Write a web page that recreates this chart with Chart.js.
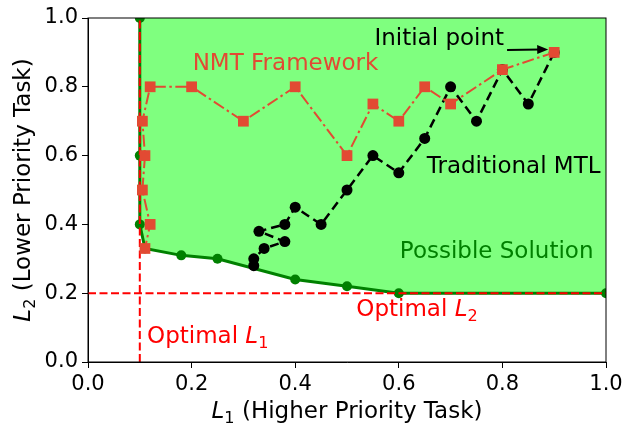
<!DOCTYPE html>
<html>
<head>
    <title>NMT vs MTL</title>
    <script src="https://cdn.jsdelivr.net/npm/chart.js"></script>
    <style>
        html, body { margin: 0; padding: 0; background: #fff; overflow: hidden; }
        canvas { display: block; }
    </style>
</head>
<body>
    <canvas id="paretoChart" width="628" height="424"></canvas>
    <script>
        // axis ticks
        const TICKS = [0.0, 0.2, 0.4, 0.6, 0.8, 1.0];

        // optimal values of each loss
        const OPT_L1 = 0.1;
        const OPT_L2 = 0.2;

        // pareto frontier (possible solution boundary)
        const FRONT_X = [0.1, 0.1, 0.1, 0.11, 0.18, 0.25, 0.4, 0.5, 0.6, 1.0];
        const FRONT_Y = [1.0, 0.6, 0.4, 0.33, 0.31, 0.30, 0.24, 0.22, 0.2, 0.2];

        // NMT framework trajectory, starting from the initial point
        const NMT_X = [0.9, 0.8, 0.7, 0.65, 0.6, 0.55, 0.5, 0.4, 0.3, 0.2, 0.12, 0.105, 0.11, 0.105, 0.12, 0.11];
        const NMT_Y = [0.9, 0.85, 0.75, 0.8, 0.7, 0.75, 0.6, 0.8, 0.7, 0.8, 0.8, 0.7, 0.6, 0.5, 0.4, 0.33];

        // traditional MTL trajectory
        const MTL_X = [0.9, 0.85, 0.8, 0.75, 0.7, 0.65, 0.6, 0.55, 0.5, 0.45, 0.4, 0.38, 0.33, 0.38, 0.34, 0.32, 0.32];
        const MTL_Y = [0.9, 0.75, 0.85, 0.7, 0.8, 0.65, 0.55, 0.6, 0.5, 0.4, 0.45, 0.4, 0.38, 0.35, 0.33, 0.3, 0.28];

        const FONT = '"DejaVu Sans", sans-serif';
        const RED = '#E24A33';
        const TXT = 23;

        const toPts = (xs, ys) => xs.map((x, i) => ({ x: x, y: ys[i] }));

        // draws text with italic L and subscript digits, e.g. [['L','i'],['1','s'],[' (text)','']]
        function drawRich(ctx, parts, x, y, size, color, align) {
            const fontOf = p => (p[1] === 'i' ? 'italic ' : '') + (p[1] === 's' ? size * 0.7 : size) + 'px ' + FONT;
            let total = 0;
            parts.forEach(p => { ctx.font = fontOf(p); total += ctx.measureText(p[0]).width; });
            let cx = align === 'center' ? x - total / 2 : x;
            ctx.fillStyle = color;
            ctx.textAlign = 'left';
            ctx.textBaseline = 'alphabetic';
            parts.forEach(p => {
                ctx.font = fontOf(p);
                ctx.fillText(p[0], cx, p[1] === 's' ? y + size * 0.22 : y);
                cx += ctx.measureText(p[0]).width;
            });
            return total;
        }

        const annotations = {
            id: 'annotations',
            afterDatasetsDraw(chart) {
                const ctx = chart.ctx;
                const xs = chart.scales.x, ys = chart.scales.y;
                const area = chart.chartArea;
                const px = v => xs.getPixelForValue(v), py = v => ys.getPixelForValue(v);
                ctx.save();

                // spines
                ctx.strokeStyle = '#000';
                ctx.lineWidth = 1;
                ctx.strokeRect(area.left, area.top, area.right - area.left, area.bottom - area.top);

                drawRich(ctx, [['NMT Framework', '']], px(0.202), py(0.849), TXT, RED);
                drawRich(ctx, [['Traditional MTL', '']], px(0.654), py(0.549), TXT, '#000');
                drawRich(ctx, [['Possible Solution', '']], px(0.602), py(0.302), TXT, '#008000');
                drawRich(ctx, [['Optimal ', ''], ['L', 'i'], ['2', 's']], px(0.518), py(0.134), TXT, '#ff0000');
                drawRich(ctx, [['Optimal ', ''], ['L', 'i'], ['1', 's']], px(0.114), py(0.055), TXT, '#ff0000');
                drawRich(ctx, [['Initial point', '']], px(0.553), py(0.922), TXT, '#000');

                // arrow to the initial point
                const sx = px(0.809), sy = py(0.907);
                const tx = px(NMT_X[0]) - 6, ty = py(NMT_Y[0]) - 3;
                const ang = Math.atan2(ty - sy, tx - sx);
                ctx.strokeStyle = '#000';
                ctx.fillStyle = '#000';
                ctx.lineWidth = 2;
                ctx.beginPath();
                ctx.moveTo(sx, sy);
                ctx.lineTo(tx - 8 * Math.cos(ang), ty - 8 * Math.sin(ang));
                ctx.stroke();
                ctx.beginPath();
                ctx.moveTo(tx, ty);
                ctx.lineTo(tx - 11 * Math.cos(ang) + 4.5 * Math.sin(ang), ty - 11 * Math.sin(ang) - 4.5 * Math.cos(ang));
                ctx.lineTo(tx - 11 * Math.cos(ang) - 4.5 * Math.sin(ang), ty - 11 * Math.sin(ang) + 4.5 * Math.cos(ang));
                ctx.closePath();
                ctx.fill();
                ctx.restore();
            },
            afterDraw(chart) {
                const ctx = chart.ctx;
                const area = chart.chartArea;
                ctx.save();
                drawRich(ctx, [['L', 'i'], ['1', 's'], [' (Higher Priority Task)', '']],
                    (area.left + area.right) / 2, 418, TXT, '#000', 'center');
                ctx.translate(30, (area.top + area.bottom) / 2);
                ctx.rotate(-Math.PI / 2);
                drawRich(ctx, [['L', 'i'], ['2', 's'], [' (Lower Priority Task)', '']], 0, 0, TXT, '#000', 'center');
                ctx.restore();
            }
        };

        const axisCommon = {
            type: 'linear',
            min: 0,
            max: 1,
            afterBuildTicks: s => { s.ticks = TICKS.map(v => ({ value: v })); },
            grid: { drawOnChartArea: false, drawTicks: true, tickLength: 6, color: '#000', lineWidth: 1 },
            border: { display: true, color: '#000', width: 1 },
            ticks: {
                color: '#000',
                padding: 4,
                maxRotation: 0,
                font: { family: FONT, size: 21 },
                callback: v => Number(v).toFixed(1)
            }
        };

        new Chart(document.getElementById('paretoChart'), {
            type: 'line',
            data: {
                datasets: [
                    {
                        data: toPts(FRONT_X, FRONT_Y),
                        borderColor: '#008000',
                        borderWidth: 3,
                        backgroundColor: 'rgba(0, 255, 0, 0.5)',
                        fill: 'end',
                        pointRadius: 5,
                        pointBorderWidth: 0,
                        pointBackgroundColor: '#008000',
                        order: 5
                    },
                    {
                        data: toPts([OPT_L1, OPT_L1], [0, 1]),
                        borderColor: '#ff0000',
                        borderWidth: 2,
                        borderDash: [8, 3.5],
                        pointRadius: 0,
                        fill: false,
                        order: 4
                    },
                    {
                        data: toPts([0, 1], [OPT_L2, OPT_L2]),
                        borderColor: '#ff0000',
                        borderWidth: 2,
                        borderDash: [8, 3.5],
                        pointRadius: 0,
                        fill: false,
                        order: 3
                    },
                    {
                        data: toPts(MTL_X, MTL_Y),
                        borderColor: '#000',
                        borderWidth: 2.5,
                        borderDash: [9, 5],
                        pointRadius: 5.5,
                        pointBorderWidth: 0,
                        pointBackgroundColor: '#000',
                        fill: false,
                        order: 2
                    },
                    {
                        data: toPts(NMT_X, NMT_Y),
                        borderColor: RED,
                        borderWidth: 2,
                        borderDash: [12, 3.5, 2.5, 3.5],
                        pointStyle: 'rect',
                        pointRadius: 7.6,
                        pointBorderWidth: 0,
                        pointBackgroundColor: RED,
                        fill: false,
                        order: 1
                    }
                ]
            },
            options: {
                responsive: false,
                animation: false,
                devicePixelRatio: 1,
                layout: { padding: { left: 0, top: 18, right: 22, bottom: 0 } },
                plugins: { legend: { display: false }, tooltip: { enabled: false } },
                scales: {
                    x: Object.assign({}, axisCommon, { afterFit: s => { s.height = 62; } }),
                    y: Object.assign({}, axisCommon, { afterFit: s => { s.width = 88; } })
                }
            },
            plugins: [annotations]
        });
    </script>
</body>
</html>
